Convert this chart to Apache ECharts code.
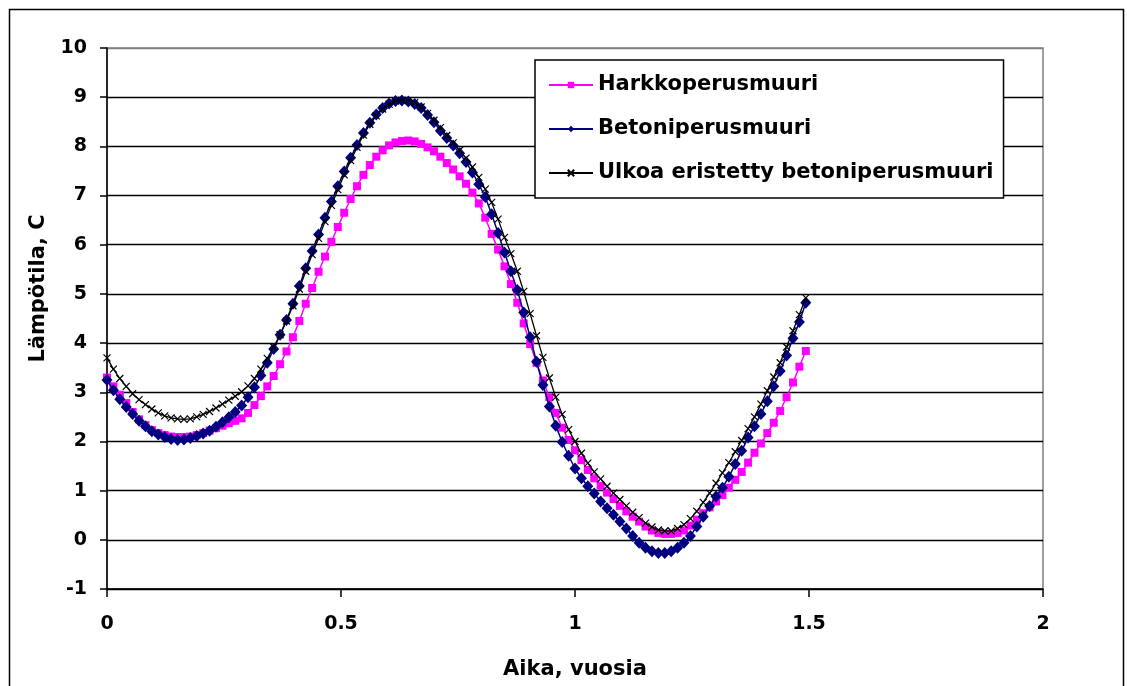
<!DOCTYPE html>
<html>
<head>
<meta charset="utf-8">
<script src="https://cdn.jsdelivr.net/npm/echarts@6/dist/echarts.min.js"></script>
<style>
html,body{margin:0;padding:0;background:#fff;}
#chart{width:1127px;height:686px;}
</style>
</head>
<body>
<div id="chart"></div>
<script>
// Sample step: one reading every 5 days, time in years
const stepDays = 5;
const daysPerYear = 365;

const seriesNames = ['Harkkoperusmuuri', 'Betoniperusmuuri', 'Ulkoa eristetty betoniperusmuuri'];

const harkko = [
3.30,3.12,2.95,2.78,2.60,2.45,2.33,2.23,2.17,2.13,
2.10,2.09,2.09,2.10,2.13,2.17,2.22,2.27,2.32,2.37,
2.42,2.47,2.58,2.74,2.92,3.12,3.33,3.57,3.83,4.12,
4.45,4.80,5.12,5.45,5.76,6.06,6.36,6.65,6.93,7.19,
7.42,7.62,7.79,7.92,8.02,8.08,8.11,8.12,8.10,8.05,
7.98,7.90,7.79,7.66,7.53,7.39,7.24,7.06,6.84,6.55,
6.22,5.90,5.56,5.20,4.82,4.40,3.98,3.60,3.24,2.90,
2.58,2.28,2.03,1.82,1.62,1.42,1.25,1.10,0.96,0.83,
0.69,0.58,0.47,0.37,0.27,0.19,0.14,0.12,0.12,0.14,
0.19,0.29,0.41,0.54,0.66,0.78,0.91,1.06,1.22,1.38,
1.57,1.77,1.96,2.17,2.38,2.62,2.90,3.20,3.52,3.84
];

const betoni = [
3.25,3.04,2.86,2.70,2.56,2.42,2.31,2.21,2.14,2.09,
2.05,2.03,2.04,2.07,2.11,2.16,2.22,2.30,2.39,2.49,
2.60,2.73,2.90,3.10,3.34,3.60,3.88,4.17,4.47,4.80,
5.16,5.52,5.87,6.21,6.55,6.88,7.19,7.49,7.77,8.03,
8.27,8.48,8.65,8.78,8.87,8.92,8.93,8.91,8.86,8.78,
8.64,8.49,8.32,8.17,8.02,7.86,7.68,7.47,7.23,6.97,
6.62,6.24,5.84,5.46,5.08,4.62,4.12,3.62,3.15,2.71,
2.32,1.99,1.71,1.45,1.25,1.09,0.94,0.78,0.64,0.51,
0.37,0.23,0.08,-0.06,-0.16,-0.23,-0.27,-0.27,-0.23,-0.16,
-0.06,0.08,0.27,0.47,0.69,0.88,1.06,1.28,1.54,1.81,
2.08,2.31,2.56,2.82,3.12,3.43,3.75,4.10,4.43,4.82
];

const ulkoa = [
3.70,3.47,3.28,3.12,2.97,2.85,2.75,2.66,2.58,2.52,
2.48,2.46,2.45,2.46,2.50,2.55,2.61,2.68,2.76,2.84,
2.92,3.01,3.13,3.28,3.47,3.69,3.92,4.17,4.45,4.76,
5.10,5.46,5.80,6.13,6.47,6.80,7.12,7.42,7.71,7.98,
8.23,8.45,8.62,8.76,8.86,8.92,8.94,8.93,8.89,8.80,
8.67,8.53,8.38,8.22,8.07,7.92,7.76,7.58,7.37,7.13,
6.86,6.52,6.15,5.82,5.46,5.05,4.60,4.15,3.71,3.29,
2.90,2.55,2.24,2.00,1.76,1.56,1.38,1.24,1.09,0.95,
0.82,0.69,0.56,0.45,0.34,0.26,0.20,0.18,0.18,0.23,
0.31,0.43,0.58,0.76,0.95,1.15,1.36,1.57,1.79,2.02,
2.26,2.50,2.76,3.03,3.31,3.60,3.92,4.25,4.58,4.92
];

const xAxisName = 'Aika, vuosia';
const yAxisName = 'Lämpötila, C';

function pairs(vals){
  return vals.map((v,i)=>[i*stepDays/daysPerYear, v]);
}

const font = 'DejaVu Sans';
const chart = echarts.init(document.getElementById('chart'), null, {renderer:'canvas'});

const splitColors = [];
for (let k=0;k<12;k++) splitColors.push(k===11 ? '#808080' : '#000000');

chart.setOption({
  animation:false,
  backgroundColor:'#ffffff',
  graphic:[{
    type:'rect', z:-10, silent:true,
    shape:{x:9.5,y:9.5,width:1114,height:700},
    style:{fill:'none',stroke:'#000',lineWidth:1.5}
  }],
  grid:{left:107,right:84,top:48,bottom:97,show:true,borderColor:'#808080',borderWidth:1.5,backgroundColor:'transparent'},
  legend:{
    orient:'vertical',
    left:535, top:60,
    padding:[13,10,13,13],
    itemGap:20,
    itemWidth:44, itemHeight:8,
    backgroundColor:'#ffffff',
    borderColor:'#000', borderWidth:1.5, borderRadius:0,
    textStyle:{fontFamily:font,fontWeight:'bold',fontSize:21,color:'#000',lineHeight:24},
    data:seriesNames
  },
  xAxis:{
    type:'value', min:0, max:2, interval:0.5,
    name:xAxisName, nameLocation:'middle', nameGap:70,
    nameTextStyle:{fontFamily:font,fontWeight:'bold',fontSize:21,color:'#000'},
    axisLine:{show:true,onZero:false,lineStyle:{color:'#000',width:1.5}},
    axisTick:{show:true,inside:false,length:8,lineStyle:{color:'#000',width:1.5}},
    axisLabel:{margin:26,fontFamily:font,fontWeight:'bold',fontSize:19,color:'#000'},
    splitLine:{show:false}
  },
  yAxis:{
    type:'value', min:-1, max:10, interval:1,
    name:yAxisName, nameLocation:'middle', nameGap:58,
    nameTextStyle:{fontFamily:font,fontWeight:'bold',fontSize:21,color:'#000',padding:[0,0,0,60]},
    axisLine:{show:true,onZero:false,lineStyle:{color:'#000',width:1.5}},
    axisTick:{show:true,inside:false,length:7,lineStyle:{color:'#000',width:1.5}},
    axisLabel:{margin:20,fontFamily:font,fontWeight:'bold',fontSize:19,color:'#000'},
    splitLine:{show:true,lineStyle:{color:splitColors,width:1.3}}
  },
  series:[
    {
      name:seriesNames[0], type:'line', data:pairs(harkko),
      symbol:'rect', symbolSize:8, showAllSymbol:true,
      lineStyle:{color:'#FF00FF',width:1.5},
      itemStyle:{color:'#FF00FF'}, z:2
    },
    {
      name:seriesNames[1], type:'line', data:pairs(betoni),
      symbol:'diamond', symbolSize:[11,12], showAllSymbol:true,
      lineStyle:{color:'#000080',width:1.5},
      itemStyle:{color:'#000080'}, z:3
    },
    {
      name:seriesNames[2], type:'line', data:pairs(ulkoa),
      symbol:'path://M0,0L10,10M10,0L0,10', symbolSize:7, showAllSymbol:true,
      lineStyle:{color:'#000000',width:1.3},
      itemStyle:{color:'#000000',borderColor:'#000000',borderWidth:1.2}, z:4
    }
  ]
});
</script>
</body>
</html>
